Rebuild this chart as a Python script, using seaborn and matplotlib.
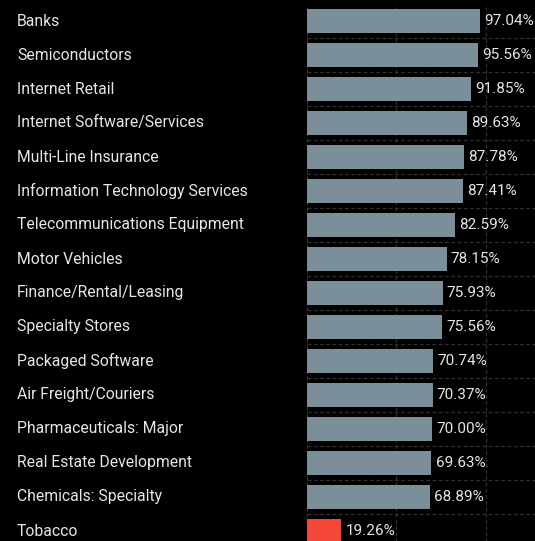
import pandas as pd
import matplotlib.pyplot as plt
import seaborn as sns
from matplotlib.transforms import blended_transform_factory

# Industrias y porcentaje
industrias = [
    'Banks', 'Semiconductors', 'Internet Retail', 'Internet Software/Services',
    'Multi-Line Insurance', 'Information Technology Services',
    'Telecommunications Equipment', 'Motor Vehicles', 'Finance/Rental/Leasing',
    'Specialty Stores', 'Packaged Software', 'Air Freight/Couriers',
    'Pharmaceuticals: Major', 'Real Estate Development', 'Chemicals: Specialty',
    'Tobacco',
]
porcentajes = [97.04, 95.56, 91.85, 89.63, 87.78, 87.41, 82.59, 78.15,
               75.93, 75.56, 70.74, 70.37, 70.00, 69.63, 68.89, 19.26]

df = pd.DataFrame({'Industria': industrias, 'Porcentaje': porcentajes})

gris = '#7a8f99'
rojo = '#f4473a'
colores = [rojo if p < 50 else gris for p in porcentajes]

sns.set_style('dark')
plt.rcParams['font.family'] = ['Roboto', 'DejaVu Sans']

fig = plt.figure(figsize=(5.35, 5.41), dpi=100)
fig.set_facecolor('black')
ax = fig.add_axes([306.7 / 535, -7 / 541, 1 - 306.7 / 535, 544 / 541])
ax.set_facecolor('black')

sns.barplot(data=df, y='Industria', x='Porcentaje', hue='Industria',
            palette=colores, legend=False, width=0.72, saturation=1,
            linewidth=0, ax=ax)

ax.set_xlim(0, 127.5)
ax.set_ylim(15.5, -0.5)

# Rejilla punteada
for x in [0, 50, 100]:
    ax.axvline(x, color='#303030', linestyle=(0, (3, 2)), linewidth=0.9, zorder=0)
for i in range(len(industrias) - 1):
    ax.axhline(i + 0.5, color='#303030', linestyle=(0, (3, 2)), linewidth=0.9, zorder=0)

for cont in ax.containers:
    ax.bar_label(cont, fmt='%.2f%%', padding=3, color='#e6e6e6', fontsize=11)

# Etiquetas a la izquierda
trans = blended_transform_factory(fig.transFigure, ax.transData)
for i, nombre in enumerate(industrias):
    ax.text(17 / 535, i, nombre, transform=trans, ha='left', va='center',
            color='#e6e6e6', fontsize=11.3, clip_on=False)

ax.set_xticks([])
ax.set_yticks([])
ax.set_xlabel('')
ax.set_ylabel('')
for s in ax.spines.values():
    s.set_visible(False)

fig.savefig('out.png', dpi=100, facecolor='black')
